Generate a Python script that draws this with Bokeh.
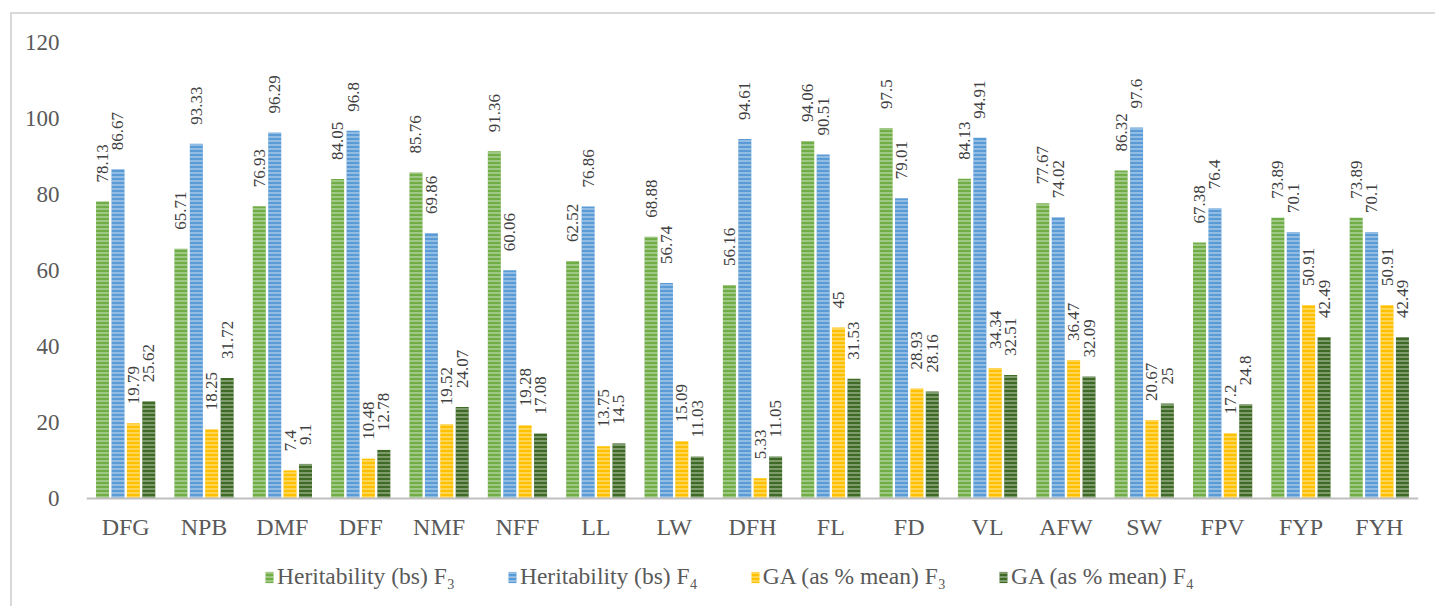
from math import pi
from bokeh.plotting import figure
from bokeh.models import (ColumnDataSource, FactorRange, Legend, LegendItem, FixedTicker,
                          Range1d, Span)
from bokeh.transform import dodge
from bokeh.core.properties import value
from bokeh.embed import file_html
from bokeh.resources import INLINE

categories = ["DFG", "NPB", "DMF", "DFF", "NMF", "NFF", "LL", "LW", "DFH",
              "FL", "FD", "VL", "AFW", "SW", "FPV", "FYP", "FYH"]
herit_f3 = [78.13, 65.71, 76.93, 84.05, 85.76, 91.36, 62.52, 68.88, 56.16,
            94.06, 97.5, 84.13, 77.67, 86.32, 67.38, 73.89, 73.89]
herit_f4 = [86.67, 93.33, 96.29, 96.8, 69.86, 60.06, 76.86, 56.74, 94.61,
            90.51, 79.01, 94.91, 74.02, 97.6, 76.4, 70.1, 70.1]
ga_f3 = [19.79, 18.25, 7.4, 10.48, 19.52, 19.28, 13.75, 15.09, 5.33,
         45, 28.93, 34.34, 36.47, 20.67, 17.2, 50.91, 50.91]
ga_f4 = [25.62, 31.72, 9.1, 12.78, 24.07, 17.08, 14.5, 11.03, 11.05,
         31.53, 28.16, 32.51, 32.09, 25, 24.8, 42.49, 42.49]
y_ticks = [0, 20, 40, 60, 80, 100, 120]

series_names = ["Heritability (bs) F\u2083", "Heritability (bs) F\u2084",
                "GA (as % mean) F\u2083", "GA (as % mean) F\u2084"]
series_values = [herit_f3, herit_f4, ga_f3, ga_f4]
colors = ["#70AD47", "#5B9BD5", "#FFC000", "#3F6A26"]
offsets = [-0.295, -0.098, 0.098, 0.295]

data = {"cat": categories, "zero": [0] * len(categories)}
for i, vals in enumerate(series_values):
    data[f"s{i}"] = vals
    data[f"l{i}"] = ["{:g}".format(v) for v in vals]
source = ColumnDataSource(data)

FONT = "Liberation Serif"

# frame extends below zero so that the category labels and the legend sit inside it
p = figure(x_range=FactorRange(*categories), y_range=Range1d(-27.9, 120),
           width=1425, height=594, output_backend="svg", toolbar_location=None,
           min_border_left=74, min_border_right=19, min_border_top=28, min_border_bottom=4)
p.styles = {"margin-left": "10px", "margin-top": "12px",
            "border-top": "2px solid #d9d9d9", "border-left": "2px solid #d9d9d9"}
p.outline_line_color = None
p.xgrid.grid_line_color = None
p.ygrid.grid_line_color = None
p.background_fill_color = "white"
p.xaxis.visible = False

renderers = []
for i in range(4):
    r = p.vbar(x=dodge("cat", offsets[i], range=p.x_range), top=f"s{i}", width=0.166,
               source=source, fill_color=colors[i], line_color=None,
               hatch_pattern="horizontal_line", hatch_color="white",
               hatch_alpha=0.55, hatch_scale=4, hatch_weight=1.2)
    renderers.append(r)
    p.text(x=dodge("cat", offsets[i], range=p.x_range), y=f"s{i}", text=f"l{i}",
           source=source, angle=pi / 2, text_align="left", text_baseline="middle",
           y_offset=-19, text_font=value(FONT), text_font_size="17px",
           text_color="#404040")

# category axis line and labels
p.add_layout(Span(location=0, dimension="width", line_color="#BFBFBF", line_width=2))
p.text(x="cat", y="zero", text="cat", source=source, text_align="center",
       text_baseline="middle", y_offset=29, text_font=value(FONT),
       text_font_size="24px", text_color="#595959")

p.yaxis.ticker = FixedTicker(ticks=y_ticks)
p.yaxis.axis_line_color = None
p.yaxis.major_tick_line_color = None
p.yaxis.minor_tick_line_color = None
p.yaxis.major_label_standoff = 21
p.yaxis.major_label_text_font = FONT
p.yaxis.major_label_text_font_size = "23px"
p.yaxis.major_label_text_color = "#595959"

items = [LegendItem(label=series_names[i], renderers=[renderers[i]]) for i in range(4)]
legend = Legend(items=items, orientation="horizontal", location=(178, 14),
                padding=0, margin=0, spacing=52, label_standoff=3,
                glyph_width=10, glyph_height=14,
                label_text_font=FONT, label_text_font_size="23.5px",
                label_text_color="#595959", border_line_color=None,
                background_fill_alpha=0)
p.add_layout(legend, "center")

open("out.html", "w").write(file_html(p, INLINE))
